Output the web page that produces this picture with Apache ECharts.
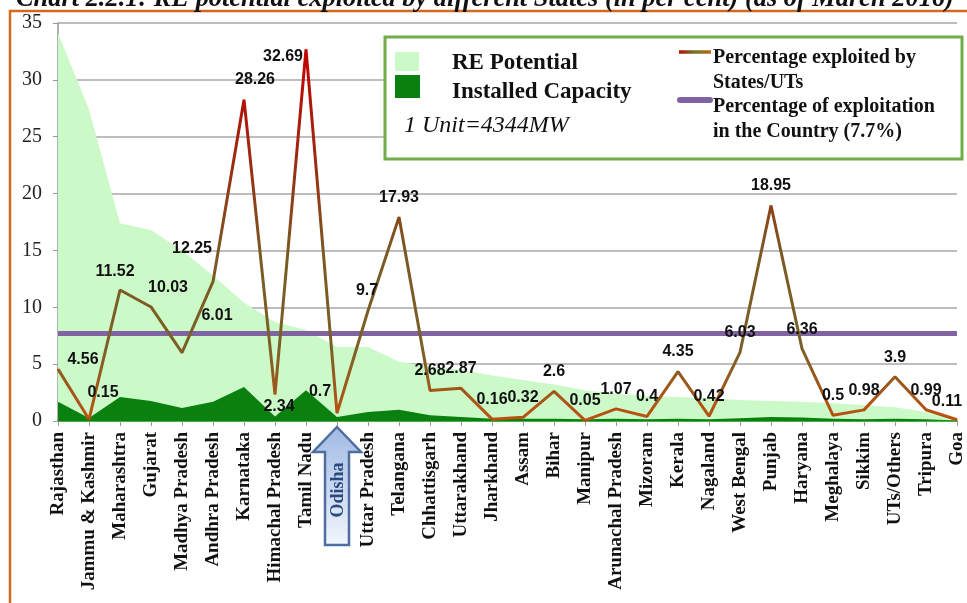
<!DOCTYPE html>
<html><head><meta charset="utf-8">
<script src="https://cdn.jsdelivr.net/npm/echarts@6/dist/echarts.min.js"></script>
<style>html,body{margin:0;padding:0;background:#fff}#c{width:967px;height:603px}</style>
</head><body><div id="c"></div>
<script>
// ---------------- data ----------------
const categories = ['Rajasthan','Jammu & Kashmir','Maharashtra','Gujarat','Madhya Pradesh','Andhra Pradesh','Karnataka','Himachal Pradesh','Tamil Nadu','Odisha','Uttar Pradesh','Telangana','Chhattisgarh','Uttarakhand','Jharkhand','Assam','Bihar','Manipur','Arunachal Pradesh','Mizoram','Kerala','Nagaland','West Bengal','Punjab','Haryana','Meghalaya','Sikkim','UTs/Others','Tripura','Goa'];
const rePotential = [34.1,27.4,17.4,16.8,15.0,12.8,10.4,8.7,8.0,6.5,6.5,5.2,4.8,4.5,4.0,3.6,3.2,2.7,2.4,2.2,2.1,2.0,1.85,1.75,1.7,1.55,1.4,1.2,0.8,0.15];
const installedCapacity = [1.7,0.26,2.1,1.75,1.15,1.7,3.0,0.4,2.7,0.35,0.8,1.0,0.5,0.35,0.2,0.2,0.2,0.15,0.2,0.15,0.2,0.15,0.25,0.35,0.3,0.2,0.15,0.2,0.15,0.05];
const exploitedPct = [4.56,0.15,11.52,10.03,6.01,12.25,28.26,2.34,32.69,0.7,9.7,17.93,2.68,2.87,0.16,0.32,2.6,0.05,1.07,0.4,4.35,0.42,6.03,18.95,6.36,0.5,0.98,3.9,0.99,0.11];
const countryPct = 7.7;
const yMin = 0, yMax = 35, yStep = 5;
const highlightState = 'Odisha';
const titleText = 'Chart 2.2.1: RE potential exploited by different States (in per cent) (as of March 2016)';
const legendNames = ['RE Potential','Installed Capacity','Percentage exploited by','States/UTs','Percentage of exploitation','in the Country (7.7%)'];
const unitNote = '1 Unit=4344MW';

// label nudges (style only, in px, keyed by state)
const labelNudge = {
  'Rajasthan':[25,10],'Jammu & Kashmir':[14,-7],'Maharashtra':[-5,1],'Gujarat':[17,0],
  'Madhya Pradesh':[35,-18],'Andhra Pradesh':[-21,-14],'Karnataka':[11,-1],
  'Himachal Pradesh':[4,32],'Tamil Nadu':[-23,27],'Odisha':[-17,-2],'Uttar Pradesh':[-1,-1],
  'Goa':[-10,1]
};

const chart = echarts.init(document.getElementById('c'));
const serif = '"Liberation Serif","Times New Roman",serif';

const option = {
  animation:false,
  backgroundColor:'#fff',
  grid:{left:58,right:10,top:23,bottom:182,containLabel:false},
  xAxis:{
    type:'category', data:categories, boundaryGap:false,
    axisLine:{lineStyle:{color:'#45b045',width:2}},
    axisTick:{show:true,length:5,lineStyle:{color:'#999'}},
    axisLabel:{interval:0,rotate:90,margin:11,fontFamily:serif,fontWeight:'bold',fontSize:19,color:'#111',
      formatter:v => v===highlightState ? '' : v},
    splitLine:{show:false}
  },
  yAxis:{
    type:'value', min:yMin, max:yMax, interval:yStep,
    axisLine:{show:true,lineStyle:{color:'#999',width:1.5}},
    axisTick:{show:true,length:5,lineStyle:{color:'#999'}},
    axisLabel:{fontFamily:serif,fontSize:20,color:'#222',margin:16},
    splitLine:{lineStyle:{color:'#a8a8a8',width:1.6}}
  },
  series:[
    {name:'RE Potential',type:'line',data:rePotential,symbol:'none',z:1,
     lineStyle:{width:0},areaStyle:{color:'#ccf9c8',opacity:1}},
    {name:'Installed Capacity',type:'line',data:installedCapacity,symbol:'none',z:2,
     lineStyle:{width:0},areaStyle:{color:'#0a800f',opacity:1},
     markLine:{silent:true,symbol:'none',label:{show:false},
       lineStyle:{color:'#8064a2',width:5,type:'solid'},data:[{yAxis:countryPct}]}},
    {name:'Percentage exploited by States/UTs',type:'line',z:5,
     data:exploitedPct.map((v,i)=>({value:v,label:{offset:labelNudge[categories[i]]||[0,0]}})),
     symbol:'circle',symbolSize:1,itemStyle:{color:'#9a3a12'},
     lineStyle:{width:3,color:new echarts.graphic.LinearGradient(0,0,0,1,[
        {offset:0,color:'#c40000'},{offset:0.3,color:'#9c2a10'},{offset:0.55,color:'#7a5a22'},
        {offset:0.8,color:'#7a6028'},{offset:1,color:'#c0500e'}])},
     label:{show:true,position:'top',distance:11,fontFamily:'"Liberation Sans",Arial,sans-serif',
       fontWeight:'bold',fontSize:16,color:'#111'}}
  ]
};
chart.setOption(option);

// ---------- decorations ----------
const idx = categories.indexOf(highlightState);
const p = chart.convertToPixel({gridIndex:0},[idx,0]);
const cx = p[0], ay = p[1];

const legendLineGrad = new echarts.graphic.LinearGradient(0,0,1,0,[
  {offset:0,color:'#c00000'},{offset:0.5,color:'#6d7a2a'},{offset:1,color:'#c8640e'}]);

chart.setOption({graphic:[
  // orange frame
  {type:'polyline',z:100,shape:{points:[[10,603],[10,11],[967,11]]},style:{stroke:'#d2691e',lineWidth:2.5,fill:null}},
  // title (cut off at top)
  {type:'text',z:100,x:16,y:12,style:{text:titleText,font:'italic bold 26.4px '+serif,fill:'#111',
     textAlign:'left',align:'left',textVerticalAlign:'bottom',verticalAlign:'bottom'}},
  // legend box
  {type:'rect',z:50,shape:{x:385,y:37,width:577,height:122},style:{fill:'#fff',stroke:'#70ad47',lineWidth:3}},
  {type:'rect',z:51,shape:{x:395,y:52,width:24,height:19},style:{fill:'#ccf9c8'}},
  {type:'rect',z:51,shape:{x:395,y:75,width:25,height:23},style:{fill:'#0a800f'}},
  {type:'text',z:51,x:452,y:63,style:{text:legendNames[0],font:'bold 23px '+serif,fill:'#111',textVerticalAlign:'middle',verticalAlign:'middle'}},
  {type:'text',z:51,x:452,y:92,style:{text:legendNames[1],font:'bold 23px '+serif,fill:'#111',textVerticalAlign:'middle',verticalAlign:'middle'}},
  {type:'text',z:51,x:404,y:126,style:{text:unitNote,font:'italic 24px '+serif,fill:'#111',textVerticalAlign:'middle',verticalAlign:'middle'}},
  {type:'line',z:51,shape:{x1:679,y1:52,x2:711,y2:52},style:{stroke:legendLineGrad,lineWidth:3.5}},
  {type:'line',z:51,shape:{x1:680,y1:100,x2:710,y2:100},style:{stroke:'#8064a2',lineWidth:6,lineCap:'round'}},
  {type:'text',z:51,x:713,y:58,style:{text:legendNames[2],font:'bold 20px '+serif,fill:'#111',textVerticalAlign:'middle',verticalAlign:'middle'}},
  {type:'text',z:51,x:713,y:83,style:{text:legendNames[3],font:'bold 20px '+serif,fill:'#111',textVerticalAlign:'middle',verticalAlign:'middle'}},
  {type:'text',z:51,x:713,y:107,style:{text:legendNames[4],font:'bold 20px '+serif,fill:'#111',textVerticalAlign:'middle',verticalAlign:'middle'}},
  {type:'text',z:51,x:713,y:132,style:{text:legendNames[5],font:'bold 20px '+serif,fill:'#111',textVerticalAlign:'middle',verticalAlign:'middle'}},
  // Odisha arrow
  {type:'polygon',z:60,shape:{points:[[cx,ay+6],[cx+24,ay+31],[cx+12,ay+31],[cx+12,ay+124],[cx-12,ay+124],[cx-12,ay+31],[cx-24,ay+31]]},
   style:{fill:new echarts.graphic.LinearGradient(0,0,0,1,[{offset:0,color:'#9fb9e4'},{offset:1,color:'#f2f6fc'}]),stroke:'#4d6e9e',lineWidth:2.5}},
  {type:'text',z:61,x:cx+1,y:ay+69,rotation:Math.PI/2,style:{text:highlightState,font:'bold 18px '+serif,fill:'#2a4a80',
     textAlign:'center',align:'center',textVerticalAlign:'middle',verticalAlign:'middle'}}
]});
</script></body></html>
